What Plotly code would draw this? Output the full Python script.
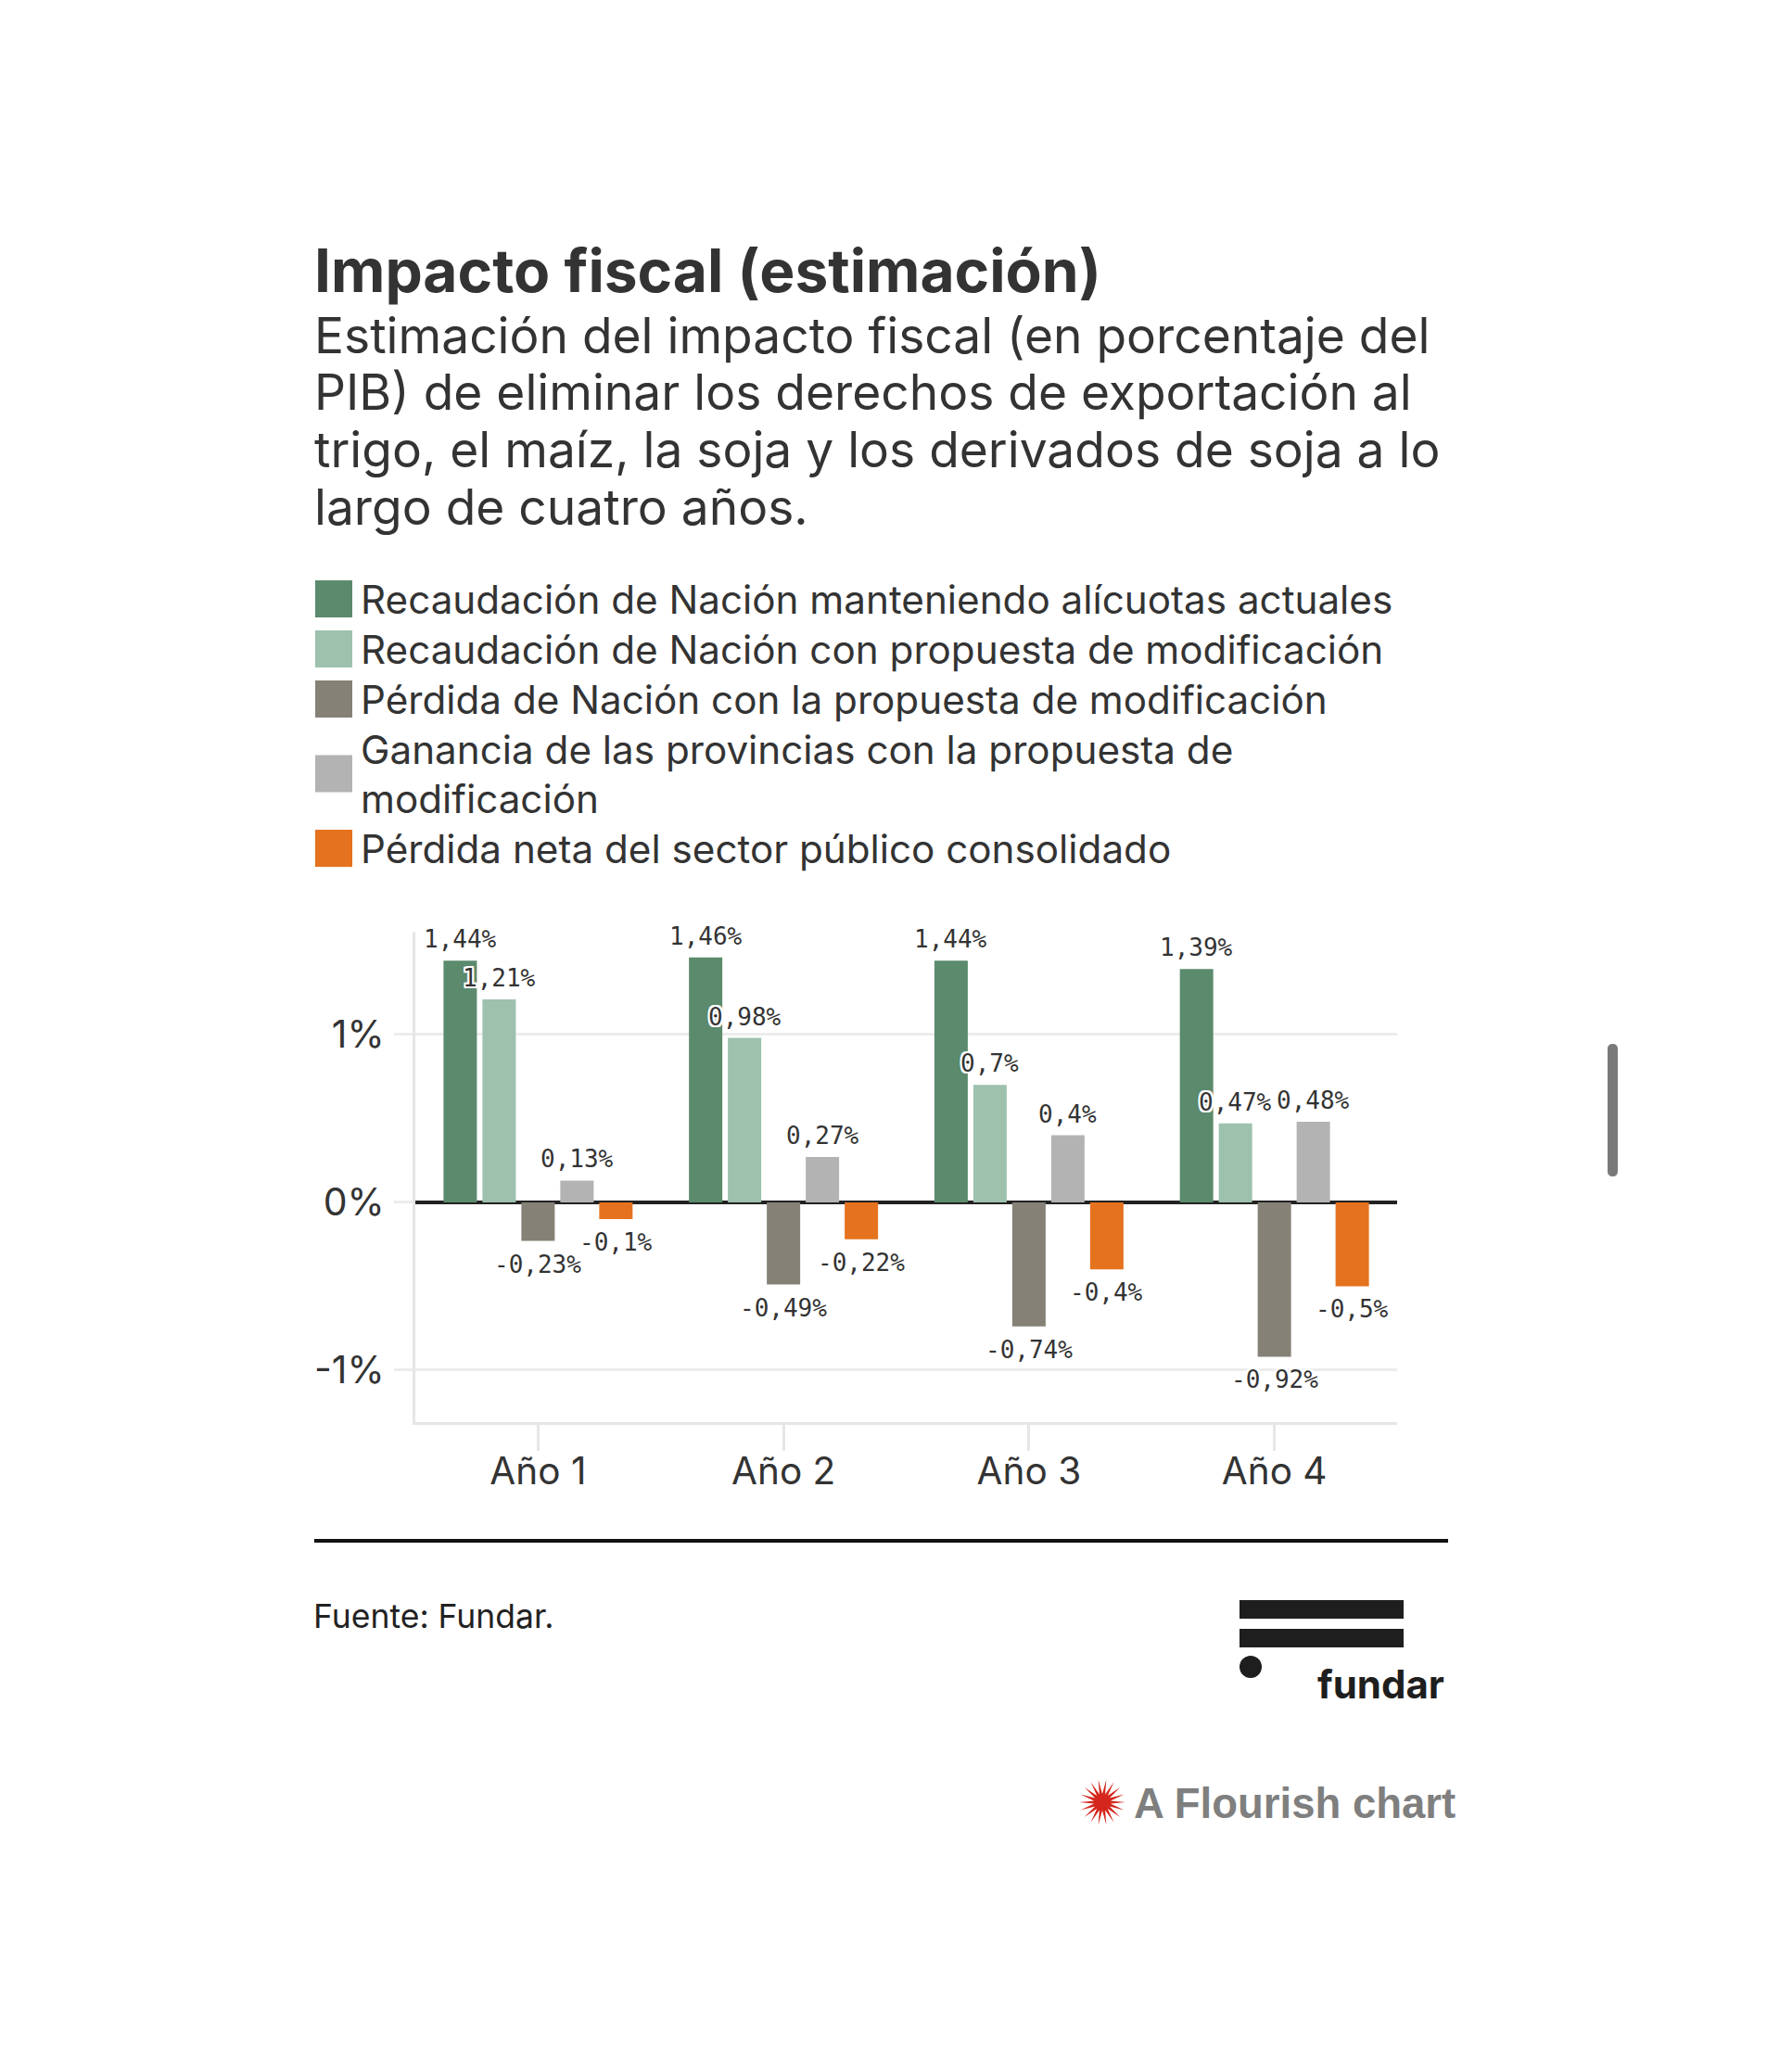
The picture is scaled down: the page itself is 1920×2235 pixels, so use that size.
import math
import plotly.graph_objects as go

# ---------------- data ----------------
categories = ["Año 1", "Año 2", "Año 3", "Año 4"]
series_names = [
    "Recaudación de Nación manteniendo alícuotas actuales",
    "Recaudación de Nación con propuesta de modificación",
    "Pérdida de Nación con la propuesta de modificación",
    "Ganancia de las provincias con la propuesta de modificación",
    "Pérdida neta del sector público consolidado",
]
recaudacion_actual = [1.44, 1.46, 1.44, 1.39]
recaudacion_propuesta = [1.21, 0.98, 0.70, 0.47]
perdida_nacion = [-0.23, -0.49, -0.74, -0.92]
ganancia_provincias = [0.13, 0.27, 0.40, 0.48]
perdida_neta = [-0.10, -0.22, -0.40, -0.50]
y_tick_vals = [-1, 0, 1]
y_tick_text = ["-1%", "0%", "1%"]

series_values = [recaudacion_actual, recaudacion_propuesta, perdida_nacion,
                 ganancia_provincias, perdida_neta]
colors = ["#5b8a6d", "#9dc1ad", "#858177", "#b3b3b3", "#e5721f"]

# ---------------- layout geometry (pixels) ----------------
W, H = 1920, 2235
L, R, T, B = 448, 1507, 1005, 1534
PW, PH = R - L, B - T
BARGAP, BARGROUPGAP = 0.207, 0.143


def fx(X):
    return (X - L) / PW


def fy(Y):
    return (B - Y) / PH


def fmt(v):
    return f"{v:g}".replace(".", ",") + "%"


TXT = "#333333"
HALO = ("2px 2px 0 #fff, -2px -2px 0 #fff, 2px -2px 0 #fff, -2px 2px 0 #fff, "
        "0 2px 0 #fff, 0 -2px 0 #fff, 2px 0 0 #fff, -2px 0 0 #fff")

fig = go.Figure()
for name, vals, col in zip(series_names, series_values, colors):
    fig.add_trace(go.Bar(
        x=categories, y=vals, name=name,
        marker=dict(color=col, line=dict(width=0)),
        hoverinfo="skip",
    ))

shapes = []
annotations = []

# value labels (placed on the data scale, shifted to each bar's slot)
n_series = len(series_values)
slot_px = PW / len(categories) * (1 - BARGAP) / n_series
for i, vals in enumerate(series_values):
    off = (i - (n_series - 1) / 2) * slot_px
    for cat, v in zip(categories, vals):
        pos = v >= 0
        annotations.append(dict(
            text=fmt(v), x=cat, y=v, xref="x", yref="y",
            xshift=off, yshift=7 if pos else -9,
            xanchor="center", yanchor="bottom" if pos else "top",
            showarrow=False, borderpad=0,
            font=dict(family="DejaVu Sans Mono", size=26, color=TXT, shadow=HALO)))

# title & subtitle
annotations.append(dict(text="Impacto fiscal (estimación)", x=fx(337), y=fy(292),
                        xref="paper", yref="paper", xanchor="left", yanchor="middle",
                        showarrow=False,
                        font=dict(family="Inter", size=64, color=TXT, weight=700)))
subtitle_lines = [
    "Estimación del impacto fiscal (en porcentaje del",
    "PIB) de eliminar los derechos de exportación al",
    "trigo, el maíz, la soja y los derivados de soja a lo",
    "largo de cuatro años.",
]
for i, line in enumerate(subtitle_lines):
    annotations.append(dict(text=line, x=fx(337), y=fy(361 + i * 61.7),
                            xref="paper", yref="paper", xanchor="left", yanchor="middle",
                            showarrow=False,
                            font=dict(family="Inter", size=53.3, color=TXT)))

# custom legend
legend_lines = [
    [series_names[0]],
    [series_names[1]],
    [series_names[2]],
    ["Ganancia de las provincias con la propuesta de", "modificación"],
    [series_names[4]],
]
legend_line_y = [[646], [700], [754], [808, 861], [915]]
for col, lines, ys in zip(colors, legend_lines, legend_line_y):
    cy = sum(ys) / len(ys)
    shapes.append(dict(type="rect", xref="paper", yref="paper",
                       x0=fx(340), x1=fx(380), y0=fy(cy - 20), y1=fy(cy + 20),
                       fillcolor=col, line=dict(width=0)))
    for ln, yy in zip(lines, ys):
        annotations.append(dict(text=ln, x=fx(387), y=fy(yy),
                                xref="paper", yref="paper", xanchor="left",
                                yanchor="middle", showarrow=False,
                                font=dict(family="Inter", size=42.2, color=TXT)))

# separator line
shapes.append(dict(type="line", xref="paper", yref="paper",
                   x0=fx(339), x1=fx(1562), y0=fy(1662), y1=fy(1662),
                   line=dict(color="#111111", width=4)))

# source
annotations.append(dict(text="Fuente: Fundar.", x=fx(336), y=fy(1743),
                        xref="paper", yref="paper", xanchor="left", yanchor="middle",
                        showarrow=False, font=dict(family="Inter", size=35.5, color="#222")))

# fundar logo
for y0, y1 in [(1726, 1746), (1757, 1777)]:
    shapes.append(dict(type="rect", xref="paper", yref="paper",
                       x0=fx(1337), x1=fx(1514), y0=fy(y1), y1=fy(y0),
                       fillcolor="#1e1e1e", line=dict(width=0)))
shapes.append(dict(type="circle", xref="paper", yref="paper",
                   x0=fx(1337), x1=fx(1361), y0=fy(1810), y1=fy(1786),
                   fillcolor="#1e1e1e", line=dict(width=0)))
annotations.append(dict(text="fundar", x=fx(1419), y=fy(1816),
                        xref="paper", yref="paper", xanchor="left", yanchor="middle",
                        showarrow=False,
                        font=dict(family="Inter", size=42, color="#1e1e1e", weight=700)))

# Flourish credit
cx, cy, ro, ri, n = 1189, 1944, 25, 9, 18
pts = []
for k in range(2 * n):
    r = ro if k % 2 == 0 else ri
    a = math.pi * k / n
    pts.append((fx(cx + r * math.cos(a)), fy(cy + r * math.sin(a))))
path = "M " + " L ".join(f"{p[0]:.5f},{p[1]:.5f}" for p in pts) + " Z"
shapes.append(dict(type="path", xref="paper", yref="paper", path=path,
                   fillcolor="#d4261c", line=dict(width=0)))
annotations.append(dict(text="A Flourish chart", x=fx(1221), y=fy(1945),
                        xref="paper", yref="paper", xanchor="left", yanchor="middle",
                        showarrow=False,
                        font=dict(family="Liberation Sans", size=45.5, color="#7f7f7f",
                                  weight=700)))

# scrollbar indicator
sx0, sx1, sy0, sy1, rr = 1734, 1745, 1126, 1269, 5.5
sb = (f"M {fx(sx0):.5f},{fy(sy0 + rr):.5f} "
      f"Q {fx(sx0):.5f},{fy(sy0):.5f} {fx(sx0 + rr):.5f},{fy(sy0):.5f} "
      f"Q {fx(sx1):.5f},{fy(sy0):.5f} {fx(sx1):.5f},{fy(sy0 + rr):.5f} "
      f"L {fx(sx1):.5f},{fy(sy1 - rr):.5f} "
      f"Q {fx(sx1):.5f},{fy(sy1):.5f} {fx(sx1 - rr):.5f},{fy(sy1):.5f} "
      f"Q {fx(sx0):.5f},{fy(sy1):.5f} {fx(sx0):.5f},{fy(sy1 - rr):.5f} Z")
shapes.append(dict(type="path", xref="paper", yref="paper", path=sb,
                   fillcolor="#7a7a7a", line=dict(width=0)))

fig.update_layout(
    width=W, height=H,
    margin=dict(l=L, r=W - R, t=T, b=H - B, pad=0),
    paper_bgcolor="white", plot_bgcolor="white",
    barmode="group", bargap=BARGAP, bargroupgap=BARGROUPGAP,
    showlegend=False,
    shapes=shapes, annotations=annotations,
    xaxis=dict(type="category", range=[-0.5, 3.5], showgrid=False, zeroline=False,
               showline=True, linecolor="#e6e6e6", linewidth=3,
               ticks="outside", ticklen=28, tickwidth=3, tickcolor="#e6e6e6",
               ticklabelstandoff=-13,
               tickfont=dict(family="Inter", size=40.5, color=TXT), fixedrange=True),
    yaxis=dict(range=[-1.31, 1.613], tickvals=y_tick_vals, ticktext=y_tick_text,
               showgrid=True, gridcolor="#ececec", gridwidth=3,
               zeroline=True, zerolinecolor="#222222", zerolinewidth=4,
               showline=True, linecolor="#e6e6e6", linewidth=3,
               ticks="outside", ticklen=20, tickwidth=3, tickcolor="#ececec",
               ticklabelstandoff=2,
               tickfont=dict(family="Inter", size=41, color=TXT), fixedrange=True),
)

fig.write_html("out.html", config={"displayModeBar": False},
               post_script="document.body.style.margin='0';")
